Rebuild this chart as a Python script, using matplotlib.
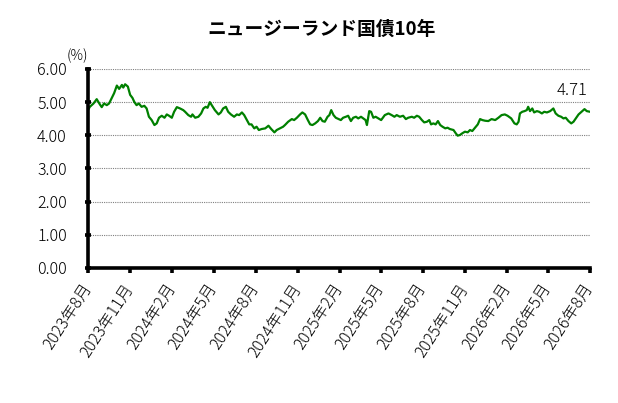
import numpy as np
import pandas as pd
import matplotlib
matplotlib.use("Agg")
import matplotlib.pyplot as plt
import matplotlib.dates as mdates
from matplotlib.ticker import FuncFormatter, FixedLocator

plt.rcParams['font.family'] = ['Noto Sans CJK JP', 'DejaVu Sans']

# データ
start_date = "2023-08-01"
day_offset = [0, 4, 12, 19, 26, 30, 35, 41, 46, 52, 57, 63, 68, 74, 77, 81, 87,
              92, 97, 101, 106, 111, 117, 123, 128, 133, 139, 145, 150, 155, 161,
              167, 172, 177, 183, 188, 194, 201, 208, 212, 219, 225, 228, 234,
              241, 247, 252, 257, 261, 266, 271, 277, 285, 290, 295, 301, 306,
              312, 319, 325, 330, 336, 341, 347, 352, 357, 363, 368, 373, 379,
              387, 394, 400, 407, 412, 419, 426, 430, 437, 445, 450, 456, 463,
              468, 474, 480, 485, 490, 496, 502, 507, 512, 517, 523, 527, 531,
              536, 541, 547, 552, 557, 563, 568, 574, 579, 585, 590, 596, 601,
              606, 609, 614, 618, 623, 628, 634, 640, 647, 648, 656, 663, 669,
              674, 681, 688, 694, 699, 707, 712, 718, 723, 729, 734, 740, 745,
              749, 754, 759, 764, 769, 774, 780, 785, 790, 798, 803, 807, 812,
              817, 823, 829, 834, 839, 845, 851, 856, 861, 867, 874, 881, 889,
              896, 903, 910, 916, 924, 931, 936, 940, 943, 948, 953, 958, 961,
              965, 970, 974, 980, 985, 991, 996, 1002, 1009, 1016, 1021, 1027,
              1033, 1038, 1043, 1049, 1055, 1060, 1065, 1071, 1076, 1084, 1089,
              1096]
yield_pct = [4.76, 4.86, 4.96, 5.09, 4.93, 4.85, 4.96, 4.91, 4.96, 5.13, 5.27,
             5.50, 5.40, 5.52, 5.44, 5.54, 5.47, 5.22, 5.13, 5.01, 4.91, 4.96,
             4.86, 4.89, 4.81, 4.56, 4.46, 4.31, 4.36, 4.53, 4.59, 4.53, 4.63,
             4.59, 4.53, 4.71, 4.85, 4.81, 4.76, 4.71, 4.61, 4.56, 4.63, 4.53,
             4.56, 4.66, 4.81, 4.86, 4.83, 5.00, 4.89, 4.76, 4.63, 4.69, 4.81,
             4.86, 4.71, 4.63, 4.56, 4.63, 4.61, 4.69, 4.61, 4.46, 4.33, 4.33,
             4.21, 4.26, 4.16, 4.19, 4.21, 4.29, 4.19, 4.09, 4.16, 4.21, 4.26,
             4.31, 4.41, 4.49, 4.46, 4.53, 4.63, 4.69, 4.63, 4.46, 4.33, 4.31,
             4.36, 4.43, 4.53, 4.43, 4.41, 4.56, 4.61, 4.76, 4.61, 4.53, 4.49,
             4.46, 4.53, 4.56, 4.59, 4.43, 4.53, 4.56, 4.51, 4.56, 4.51, 4.46,
             4.31, 4.73, 4.71, 4.53, 4.56, 4.51, 4.46, 4.59, 4.61, 4.66, 4.61,
             4.56, 4.61, 4.56, 4.59, 4.49, 4.53, 4.56, 4.53, 4.59, 4.56, 4.46,
             4.39, 4.41, 4.46, 4.33, 4.36, 4.33, 4.43, 4.31, 4.26, 4.21, 4.23,
             4.19, 4.16, 4.06, 3.99, 4.01, 4.06, 4.11, 4.09, 4.16, 4.13, 4.23,
             4.33, 4.49, 4.46, 4.44, 4.43, 4.49, 4.46, 4.53, 4.61, 4.63, 4.59,
             4.51, 4.36, 4.33, 4.41, 4.66, 4.71, 4.73, 4.76, 4.86, 4.73, 4.81,
             4.69, 4.73, 4.71, 4.66, 4.71, 4.69, 4.73, 4.81, 4.66, 4.59, 4.56,
             4.51, 4.53, 4.43, 4.36, 4.41, 4.51, 4.63, 4.69, 4.79, 4.73, 4.71]
last_label = "4.71"
y_ticks = [0, 1, 2, 3, 4, 5, 6]
title = "ニュージーランド国債10年"

dates = pd.Timestamp(start_date) + pd.to_timedelta(day_offset, unit="D")
tick_dates = pd.date_range(start_date, "2026-08-01", freq="3MS")

fig = plt.figure(figsize=(6.18, 4.03), dpi=100)
ax = fig.add_axes([0.1424, 0.335, 0.8123, 0.4938])

ax.plot(dates, yield_pct, color="#008000", linewidth=1.6)

ax.set_ylim(0, 6)
ax.yaxis.set_major_locator(FixedLocator(y_ticks))
ax.yaxis.set_major_formatter(FuncFormatter(lambda v, p: f"{v:.2f}"))
ax.set_xlim(dates[0], pd.Timestamp("2026-08-01"))
ax.set_xticks(mdates.date2num(tick_dates))
ax.set_xticklabels([f"{d.year}年{d.month}月" for d in tick_dates],
                   rotation=57, ha="right", va="center", rotation_mode="anchor",
                   fontweight="light")
for lbl in ax.get_yticklabels():
    lbl.set_fontweight("light")

for s in ["top", "right"]:
    ax.spines[s].set_visible(False)
for s in ["left", "bottom"]:
    ax.spines[s].set_linewidth(2.6)
    ax.spines[s].set_color("black")

ax.tick_params(axis="y", direction="inout", length=4.5, width=2.6,
               labelsize=11.5, pad=13, colors="black")
ax.tick_params(axis="x", direction="out", length=3.5, width=2.6,
               labelsize=11.5, pad=9)
ax.grid(axis="y", color="#808080", linestyle=(0, (1, 1)), linewidth=0.8)
ax.set_axisbelow(True)

ax.text(0.0, 1.03, "(%)", transform=ax.transAxes, fontsize=10,
        ha="right", va="bottom", fontweight="light")
ax.annotate(last_label, xy=(dates[-1], yield_pct[-1]), xytext=(-2, 9),
            textcoords="offset points", ha="right", va="bottom", fontsize=12,
            fontweight="light")

fig.suptitle(title, x=0.52, y=0.95, fontsize=13.5, fontweight="bold")

fig.savefig("out.png", dpi=100)
